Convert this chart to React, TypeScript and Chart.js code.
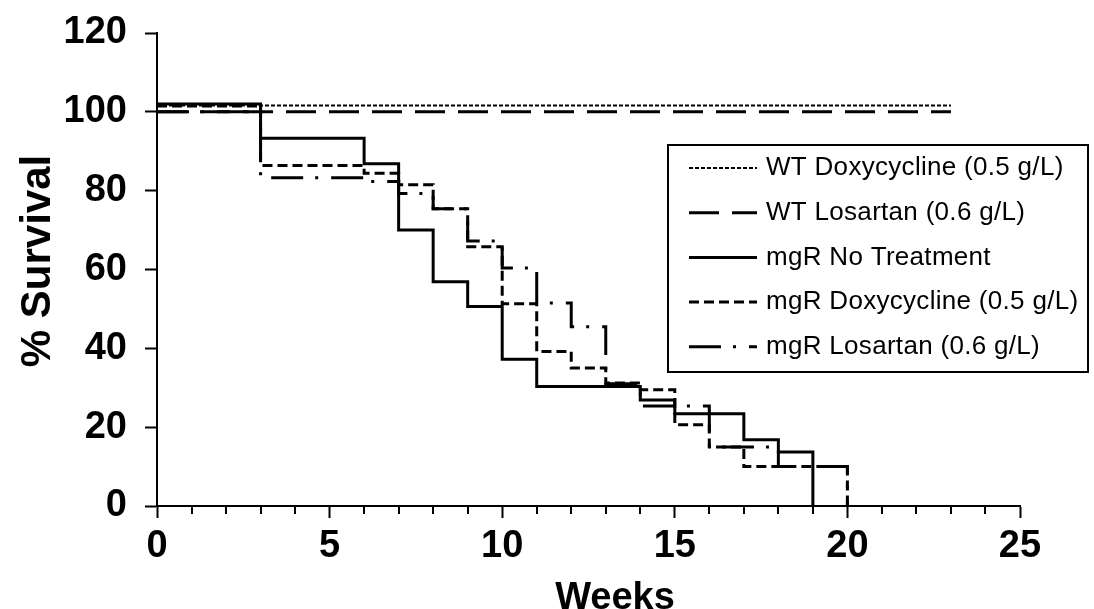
import React, { useEffect, useRef } from "react";
import { Chart, registerables } from "chart.js";
Chart.register(...registerables);

// ---- Data ----
const seriesLabels = [
  "WT Doxycycline (0.5 g/L)",
  "WT Losartan (0.6 g/L)",
  "mgR No Treatment",
  "mgR Doxycycline (0.5 g/L)",
  "mgR Losartan (0.6 g/L)",
];

const wtDoxWeeks = [0, 23];
const wtDoxSurvival = [101.6, 101.6];

const wtLosWeeks = [0, 23];
const wtLosSurvival = [100, 100];

const noTreatWeeks = [0, 3, 6, 7, 8, 9, 10, 11, 14, 15, 17, 18, 19];
const noTreatSurvival = [102, 93.3, 86.8, 70, 56.9, 50.6, 37.2, 30.3, 26.9, 23.4, 16.8, 13.7, 0];

const mgrDoxWeeks = [0, 3, 6, 7, 8, 9, 10, 11, 12, 13, 14, 15, 16, 17, 20];
const mgrDoxSurvival = [101.5, 86.4, 84.4, 81.5, 75.4, 65.8, 51.3, 39.2, 35, 31.2, 29.5, 20.6, 15, 10, 0];

const mgrLosWeeks = [0, 3, 6, 7, 8, 9, 10, 11, 12, 13, 14, 16, 18, 20];
const mgrLosSurvival = [100, 83.3, 82.3, 79.3, 75.4, 67.2, 60.4, 51.5, 45.5, 31, 25.4, 15, 10, 0];

const xMajorTickLabels = [0, 5, 10, 15, 20, 25];
const yTickLabels = [0, 20, 40, 60, 80, 100, 120];
const xAxisTitle = "Weeks";
const yAxisTitle = "% Survival";

const FONT = "'Liberation Sans', Arial, Helvetica, sans-serif";

const seriesStyles = [
  { width: 2, dash: [4, 2] },
  { width: 3, dash: [30, 13] },
  { width: 3, dash: [] as number[] },
  { width: 3, dash: [10, 5] },
  { width: 3, dash: [32, 12, 3, 13] },
];

const toPoints = (w: number[], s: number[]) => w.map((x, i) => ({ x, y: s[i] }));

const minorTicksPlugin = {
  id: "minorTicks",
  afterDraw(chart: any) {
    const xs = chart.scales.x;
    const ctx = chart.ctx;
    ctx.save();
    ctx.strokeStyle = "#000";
    ctx.lineWidth = 2;
    for (let v = xs.min; v <= xs.max; v++) {
      if (xMajorTickLabels.includes(v)) continue;
      const px = Math.round(xs.getPixelForValue(v));
      ctx.beginPath();
      ctx.moveTo(px, xs.top);
      ctx.lineTo(px, xs.top + 8);
      ctx.stroke();
    }
    ctx.restore();
  },
};

const axisTitlesPlugin = {
  id: "axisTitles",
  afterDraw(chart: any) {
    const ctx = chart.ctx;
    ctx.save();
    ctx.fillStyle = "#000";
    ctx.font = `bold 38px ${FONT}`;
    ctx.textAlign = "center";
    ctx.textBaseline = "alphabetic";
    ctx.fillText(xAxisTitle, 615, 609);
    ctx.translate(50, 261);
    ctx.rotate(-Math.PI / 2);
    ctx.font = `bold 42px ${FONT}`;
    ctx.fillText(yAxisTitle, 0, 0);
    ctx.restore();
  },
};

const boxLegendPlugin = {
  id: "boxLegend",
  afterDraw(chart: any) {
    const ctx = chart.ctx;
    const left = 668;
    const top = 145;
    const right = 1088;
    const bottom = 372;
    ctx.save();
    ctx.fillStyle = "#fff";
    ctx.fillRect(left, top, right - left, bottom - top);
    ctx.strokeStyle = "#000";
    ctx.lineWidth = 2;
    ctx.strokeRect(left, top, right - left, bottom - top);
    chart.data.datasets.forEach((ds: any, i: number) => {
      const y = 168 + i * 44.7;
      ctx.beginPath();
      ctx.lineWidth = ds.borderWidth;
      ctx.setLineDash(ds.borderDash || []);
      ctx.moveTo(689, y);
      ctx.lineTo(757, y);
      ctx.stroke();
      ctx.setLineDash([]);
      ctx.fillStyle = "#000";
      ctx.font = `26px ${FONT}`;
      (ctx as any).letterSpacing = "0.3px";
      ctx.textBaseline = "middle";
      ctx.textAlign = "left";
      ctx.fillText(ds.label, 766, y);
    });
    ctx.restore();
  },
};

export default function App() {
  const canvasRef = useRef<HTMLCanvasElement | null>(null);

  useEffect(() => {
    if (!canvasRef.current) return;
    const series = [
      toPoints(wtDoxWeeks, wtDoxSurvival),
      toPoints(wtLosWeeks, wtLosSurvival),
      toPoints(noTreatWeeks, noTreatSurvival),
      toPoints(mgrDoxWeeks, mgrDoxSurvival),
      toPoints(mgrLosWeeks, mgrLosSurvival),
    ];
    const chart = new Chart(canvasRef.current, {
      type: "line",
      data: {
        datasets: series.map((data, i) => ({
          label: seriesLabels[i],
          data,
          stepped: "before" as const,
          borderColor: "#000",
          backgroundColor: "#000",
          borderWidth: seriesStyles[i].width,
          borderDash: seriesStyles[i].dash,
          borderCapStyle: "butt" as const,
          pointRadius: 0,
          fill: false,
        })),
      },
      options: {
        animation: false,
        responsive: true,
        maintainAspectRatio: false,
        devicePixelRatio: 1,
        layout: { padding: { top: 33, right: 74, bottom: 0, left: 0 } },
        plugins: {
          legend: { display: false },
          tooltip: { enabled: false },
        },
        scales: {
          x: {
            type: "linear",
            min: 0,
            max: 25,
            afterFit: (s: any) => {
              s.height = 103;
              s.paddingLeft = 0;
              s.paddingRight = 0;
            },
            ticks: {
              stepSize: 1,
              autoSkip: false,
              maxRotation: 0,
              padding: 6,
              color: "#000",
              font: { family: FONT, size: 38, weight: "bold" },
              callback: (v: any) => (xMajorTickLabels.includes(Number(v)) ? String(v) : ""),
            },
            grid: {
              drawOnChartArea: false,
              drawTicks: true,
              tickLength: 12,
              tickWidth: 2,
              tickColor: (c: any) =>
                c.tick && xMajorTickLabels.includes(c.tick.value) ? "#000" : "rgba(0,0,0,0)",
            },
            border: { color: "#000", width: 2 },
          },
          y: {
            type: "linear",
            min: 0,
            max: 120,
            afterFit: (s: any) => {
              s.width = 157;
              s.paddingTop = 0;
              s.paddingBottom = 0;
            },
            ticks: {
              stepSize: 20,
              padding: 18,
              color: "#000",
              font: { family: FONT, size: 38, weight: "bold" },
              callback: (v: any) => (yTickLabels.includes(Number(v)) ? String(v) : ""),
            },
            grid: {
              drawOnChartArea: false,
              drawTicks: true,
              tickLength: 12,
              tickWidth: 2,
              tickColor: "#000",
            },
            border: { color: "#000", width: 2 },
          },
        },
      },
      plugins: [minorTicksPlugin, axisTitlesPlugin, boxLegendPlugin],
    });
    return () => chart.destroy();
  }, []);

  return (
    <div style={{ position: "fixed", left: 0, top: 0, width: 1094, height: 609, background: "#fff" }}>
      <canvas ref={canvasRef} />
    </div>
  );
}
